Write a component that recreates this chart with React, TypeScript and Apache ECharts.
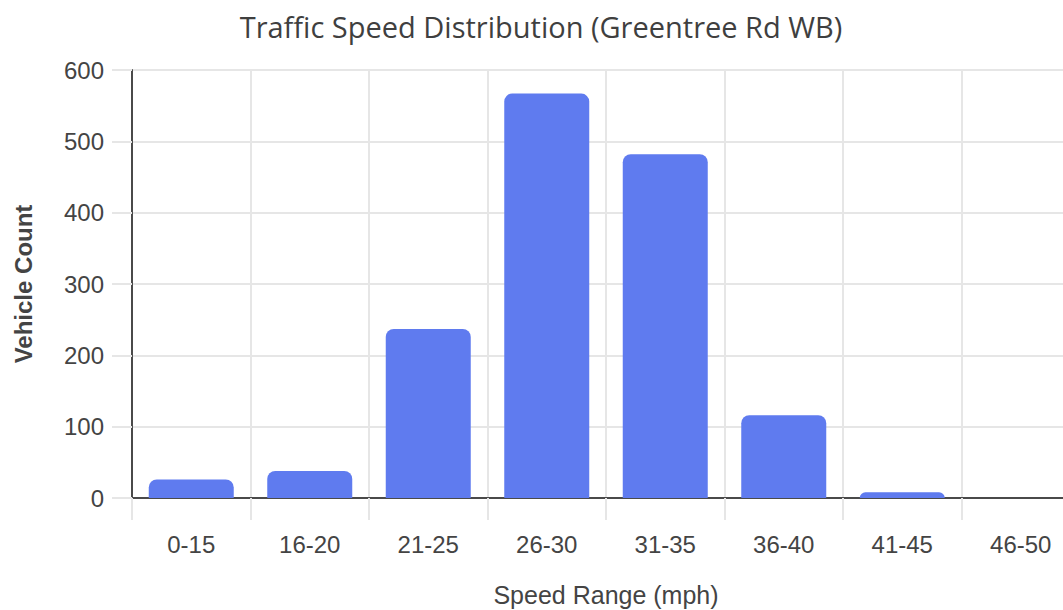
import React, { useEffect, useRef } from "react";
import * as echarts from "echarts";

const categories = ["0-15", "16-20", "21-25", "26-30", "31-35", "36-40", "41-45", "46-50"];
const vehicleCounts = [26, 38, 237, 567, 482, 116, 8, 0];
const yTicks = { min: 0, max: 600, interval: 100 };

export default function App() {
  const ref = useRef<HTMLDivElement>(null);
  useEffect(() => {
    if (!ref.current) return;
    const chart = echarts.init(ref.current, null, { renderer: "svg" });
    const grid = "#e6e6e6";
    const axis = "#4a4a4a";
    chart.setOption({
      animation: false,
      backgroundColor: "#ffffff",
      title: {
        text: "Traffic Speed Distribution (Greentree Rd WB)",
        left: 536,
        top: 7,
        textAlign: "center",
        textStyle: {
          fontFamily: "Open Sans",
          fontSize: 29,
          fontWeight: "normal",
          color: "#3f3f3f",
        },
      },
      grid: {
        left: 132,
        top: 70,
        width: 948,
        height: 428,
        containLabel: false,
        outerBoundsMode: "none",
      },
      xAxis: {
        type: "category",
        data: categories,
        boundaryGap: true,
        name: "Speed Range (mph)",
        nameLocation: "middle",
        nameGap: 84,
        nameTextStyle: { fontFamily: "Liberation Sans", fontSize: 25, color: "#444" },
        axisLine: { show: true, lineStyle: { color: axis, width: 2 } },
        axisTick: { show: true, length: 22, lineStyle: { color: grid, width: 2 } },
        splitLine: { show: true, interval: 0, lineStyle: { color: grid, width: 2 } },
        axisLabel: {
          interval: 0,
          margin: 34,
          fontFamily: "Liberation Sans",
          fontSize: 24,
          color: "#444",
        },
      },
      yAxis: {
        type: "value",
        min: yTicks.min,
        max: yTicks.max,
        interval: yTicks.interval,
        name: "Vehicle Count",
        nameLocation: "middle",
        nameGap: 97,
        nameTextStyle: { fontFamily: "Liberation Sans", fontSize: 24, fontWeight: "bold", color: "#444" },
        axisLine: { show: true, lineStyle: { color: axis, width: 2 } },
        axisTick: { show: true, length: 20, lineStyle: { color: grid, width: 2 } },
        splitLine: { show: true, lineStyle: { color: grid, width: 2 } },
        axisLabel: {
          margin: 28,
          fontFamily: "Liberation Sans",
          fontSize: 24,
          color: "#444",
        },
      },
      series: [
        {
          type: "bar",
          data: vehicleCounts,
          barWidth: 85,
          itemStyle: { color: "#5f7bef", borderRadius: [8, 8, 0, 0] },
        },
      ],
    });
    return () => chart.dispose();
  }, []);
  return (
    <div
      ref={ref}
      style={{ position: "absolute", left: 0, top: 0, width: 1063, height: 610 }}
    />
  );
}
